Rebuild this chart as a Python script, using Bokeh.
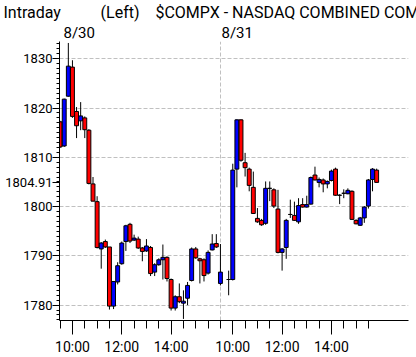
from bokeh.plotting import figure
from bokeh.models import Range1d, FixedTicker, ColumnDataSource, Title
from bokeh.embed import file_html
from bokeh.resources import INLINE

# ---------------- data ----------------
dates = ["8/30", "8/31"]
bars_per_day = 39            # 10-minute bars 09:30-16:00
tick_labels = {3: "10:00", 15: "12:00", 27: "14:00"}   # bar index within a day

# day 1 (8/30), bar index 0..38
d1_idx = list(range(39))
d1_open = [1817.2, 1812.3, 1822.4, 1828.3, 1819.3, 1817.4, 1818.0, 1815.5, 1804.6, 1801.0,
           1791.4, 1792.9, 1791.8, 1779.8, 1784.7, 1788.4, 1792.9, 1796.4, 1793.2, 1793.4,
           1791.6, 1791.0, 1791.7, 1786.7, 1788.2, 1789.2, 1789.7, 1785.2, 1779.4, 1781.7,
           1780.4, 1781.4, 1785.0, 1791.4, 1789.4, 1789.2, 1786.5, 1791.2, 1792.5]
d1_high = [1817.4, 1821.9, 1833.2, 1829.7, 1820.2, 1821.2, 1818.3, 1815.7, 1806.0, 1802.1,
           1792.8, 1793.3, 1791.8, 1784.8, 1788.7, 1792.9, 1796.3, 1796.7, 1794.3, 1793.9,
           1791.8, 1793.4, 1792.0, 1788.5, 1789.5, 1792.3, 1789.9, 1785.4, 1782.0, 1784.4,
           1783.0, 1784.7, 1791.7, 1791.8, 1789.6, 1789.5, 1791.1, 1794.4, 1794.4]
d1_low = [1811.9, 1812.1, 1822.3, 1818.0, 1813.9, 1815.5, 1813.9, 1804.5, 1801.1, 1791.5,
          1787.4, 1791.6, 1779.1, 1779.2, 1784.2, 1788.2, 1791.0, 1792.6, 1793.0, 1791.4,
          1788.9, 1790.8, 1785.9, 1785.9, 1788.0, 1785.2, 1784.8, 1778.9, 1778.9, 1780.4,
          1777.2, 1780.0, 1784.8, 1789.4, 1784.4, 1784.8, 1786.2, 1791.1, 1791.6]
d1_close = [1812.1, 1821.8, 1828.5, 1818.3, 1816.4, 1818.4, 1815.6, 1804.7, 1801.1, 1791.7,
            1792.6, 1791.8, 1779.8, 1784.8, 1788.0, 1792.6, 1796.1, 1793.0, 1793.6, 1791.6,
            1790.9, 1792.0, 1786.4, 1788.2, 1789.2, 1789.7, 1785.4, 1779.4, 1781.7, 1780.7,
            1780.8, 1784.0, 1791.4, 1789.6, 1789.0, 1786.0, 1790.7, 1792.4, 1791.8]

# day 2 (8/31), bar index (09:40 bar absent)
d2_idx = [0, 2, 3, 4, 5, 6, 7, 8, 9, 10, 11, 12, 13, 14, 15, 16, 17, 18, 19, 20,
          21, 22, 23, 24, 25, 26, 27, 28, 29, 30, 31, 32, 33, 34, 35, 36, 37, 38]
d2_open = [1784.4, 1785.2, 1785.2, 1807.6, 1817.6, 1808.9, 1807.6, 1803.9, 1797.6, 1797.2,
           1796.6, 1803.7, 1803.4, 1799.5, 1790.7, 1791.7, 1798.4, 1798.2, 1796.9, 1800.4,
           1799.9, 1800.5, 1806.4, 1804.9, 1805.4, 1804.6, 1805.3, 1807.6, 1802.3, 1802.7,
           1802.6, 1803.1, 1797.2, 1796.2, 1797.7, 1800.1, 1805.5, 1807.4]
d2_high = [1792.4, 1787.0, 1808.7, 1817.7, 1817.7, 1810.9, 1807.9, 1807.1, 1799.7, 1797.5,
           1805.1, 1805.1, 1803.7, 1803.4, 1791.6, 1797.5, 1801.4, 1801.0, 1801.7, 1801.7,
           1802.2, 1806.1, 1808.1, 1805.9, 1805.7, 1805.3, 1807.5, 1807.9, 1802.5, 1803.5,
           1803.7, 1803.3, 1797.4, 1797.9, 1800.1, 1805.6, 1807.8, 1807.7]
d2_low = [1784.0, 1782.0, 1785.0, 1803.9, 1809.1, 1806.1, 1803.1, 1798.5, 1796.7, 1796.1,
          1796.3, 1801.1, 1799.7, 1790.5, 1787.0, 1789.4, 1797.7, 1797.1, 1796.5, 1799.8,
          1799.8, 1800.4, 1805.3, 1803.9, 1802.9, 1803.7, 1805.1, 1802.2, 1800.5, 1801.7,
          1802.5, 1797.3, 1796.4, 1796.1, 1796.7, 1799.6, 1803.1, 1804.9]
d2_close = [1786.7, 1785.2, 1807.4, 1817.6, 1809.4, 1807.9, 1804.3, 1798.6, 1796.9, 1796.3,
            1803.7, 1803.7, 1800.1, 1790.7, 1791.4, 1797.2, 1798.4, 1797.2, 1800.2, 1799.9,
            1800.4, 1805.9, 1805.4, 1805.5, 1804.6, 1805.1, 1807.2, 1802.3, 1802.3, 1802.7,
            1803.3, 1797.4, 1796.5, 1797.7, 1799.9, 1805.4, 1807.6, 1804.91]

y_major = [1780, 1790, 1800, 1810, 1820, 1830]
last_price = 1804.91
title_parts = ["Intraday", "(Left)", "$COMPX - NASDAQ COMBINED COMPOSITE"]

# ---------------- build ----------------
slot = [i for i in d1_idx] + [bars_per_day + i for i in d2_idx]
o = d1_open + d2_open
h = d1_high + d2_high
l = d1_low + d2_low
c = d1_close + d2_close
col = ["#0000ff" if cc >= oo else "#ff0000" for oo, cc in zip(o, c)]
src = ColumnDataSource(dict(x=slot, o=o, h=h, l=l, c=c, col=col))

FONT = "Roboto"
NB = "\u00a0"
p = figure(width=416, height=357, output_backend="svg", toolbar_location=None, title=None,
           x_range=Range1d(-0.15, 84.75), y_range=Range1d(1776.88, 1833.5),
           min_border_left=59, min_border_right=8, min_border_top=38, min_border_bottom=36)
p.outline_line_color = None
p.background_fill_color = "white"
p.border_fill_color = "white"

p.segment(x0="x", y0="l", x1="x", y1="h", source=src, line_color="black", line_width=1)
p.vbar(x="x", bottom="o", top="c", width=0.95, source=src,
       fill_color="col", line_color="black", line_width=1)

# x axis: ticks every 30 minutes, labels at 10:00/12:00/14:00 of each day
xmaj = [d * bars_per_day + k for d in range(len(dates)) for k in tick_labels]
xmin = list(range(0, 2 * bars_per_day, 3))
p.xaxis.ticker = FixedTicker(ticks=xmaj, minor_ticks=xmin)
p.xaxis.major_label_overrides = {d * bars_per_day + k: v for d in range(len(dates))
                                 for k, v in tick_labels.items()}
p.xaxis.major_tick_out = 14
p.xaxis.major_tick_in = 0
p.xaxis.minor_tick_out = 8
p.xaxis.minor_tick_in = 0
p.xaxis.major_label_standoff = 4
p.xaxis.major_label_text_font = FONT
p.xaxis.major_label_text_font_size = "14px"
p.xaxis.major_label_text_color = "black"
p.xaxis.axis_line_color = "black"

yticks = y_major + [last_price]
p.yaxis.ticker = FixedTicker(ticks=yticks, minor_ticks=list(range(1777, 1834)))
p.yaxis.major_label_overrides = {t: str(t) for t in yticks}
p.yaxis.major_tick_out = 7
p.yaxis.major_tick_in = 0
p.yaxis.minor_tick_out = 3
p.yaxis.minor_tick_in = 0
p.yaxis.major_label_standoff = 0
p.yaxis.major_label_text_font = FONT
p.yaxis.major_label_text_font_size = "13px"
p.yaxis.major_label_text_color = "black"

p.ygrid.ticker = FixedTicker(ticks=y_major)
p.ygrid.grid_line_color = "#c0c0c0"
p.ygrid.grid_line_dash = "4 2"
p.xgrid.ticker = FixedTicker(ticks=[bars_per_day])
p.xgrid.grid_line_color = "#c0c0c0"
p.xgrid.grid_line_dash = "4 2"

# date row (closest to the frame), then the heading row above it
date_text = dates[0] + NB * 34 + dates[1]
p.add_layout(Title(text=date_text, align="left", offset=4, standoff=0,
                   text_font=FONT, text_font_size="15px", text_font_style="normal",
                   text_color="black"), "above")
head_text = title_parts[0] + NB * 10 + title_parts[1] + NB * 4 + title_parts[2]
p.add_layout(Title(text=head_text, align="left", offset=-56, standoff=0,
                   text_font=FONT, text_font_size="16px", text_font_style="normal",
                   text_color="black"), "above")

open("out.html", "w").write(file_html(p, INLINE))
